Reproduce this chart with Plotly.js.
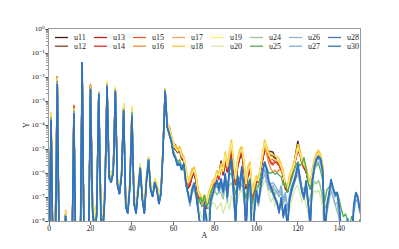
<!DOCTYPE html>
<html>
<head>
<meta charset="utf-8">
<script src="https://cdn.plot.ly/plotly-3.0.1.min.js"></script>
<style>html,body{margin:0;padding:0;background:#fff;}#chart{width:399px;height:249px;}</style>
</head>
<body>
<div id="chart"></div>
<script>
const A = [0,1,2,3,4,5,6,7,8,9,10,11,12,13,14,15,16,17,18,19,20,21,22,23,24,25,26,27,28,29,30,31,32,33,34,35,36,37,38,39,40,41,42,43,44,45,46,47,48,49,50,51,52,53,54,55,56,57,58,59,60,61,62,63,64,65,66,67,68,69,70,71,72,73,74,75,76,77,78,79,80,81,82,83,84,85,86,87,88,89,90,91,92,93,94,95,96,97,98,99,100,101,102,103,104,105,106,107,108,109,110,111,112,113,114,115,116,117,118,119,120,121,122,123,124,125,126,127,128,129,130,131,132,133,134,135,136,137,138,139,140,141,142,143,144,145,146,147,148,149,150];

const u11 = [1e-10,2.4e-4,1e-10,2.5e-9,8.5e-3,1e-10,1e-10,1e-10,1.8e-8,1e-10,
1e-10,1e-10,4.8e-4,1e-10,1e-10,1e-10,4e-2,1e-10,1e-10,1e-10,
4.2e-3,4.8e-8,8.5e-9,3.3e-8,2.2e-3,3.3e-8,9.5e-9,2.1e-7,4.4e-3,8.2e-7,
5.1e-7,1.2e-6,2.7e-3,3.5e-7,1.4e-7,8e-7,4.5e-4,5.6e-8,2.6e-8,3.1e-7,
3.5e-4,7e-8,3.1e-8,2.5e-7,1.7e-6,9e-8,2.6e-8,5e-7,3.5e-6,2.5e-7,
1.15e-7,3.6e-7,2.5e-7,7e-8,1.5e-7,9.8e-6,2.9e-3,9e-5,6.2e-5,2.9e-5,
1.05e-5,9.5e-6,7.2e-6,8.6e-6,3.9e-6,3.1e-6,1e-6,2.2e-7,3.1e-7,7e-7,
1e-6,4e-7,1e-7,6e-8,3.9e-8,7e-8,3.1e-8,9e-8,1.6e-7,2.6e-7,
3.3e-7,1.2e-6,8e-7,3.3e-6,8e-7,2.8e-6,1.05e-6,3.6e-6,8e-6,1.5e-6,
3.1e-7,1.8e-6,4e-6,6e-6,1.55e-6,2.1e-7,8.8e-7,1.3e-6,1.2e-7,1.75e-7,
3.9e-7,4.6e-7,1.35e-6,4.2e-6,9e-6,8.5e-6,8e-6,8e-6,7.5e-6,4.5e-6,
3.2e-6,2.4e-6,1.4e-6,7e-7,2.2e-7,1.6e-7,4.5e-7,7.4e-7,2e-6,7.5e-6,
2.2e-5,8e-6,2.7e-6,1.6e-6,1.1e-6,4.5e-7,2.2e-7,9.8e-7,2.4e-6,3.9e-6,
5e-6,3.4e-6,1.3e-6,1e-10,null,null,null,null,null,null,
null,null,null,null,null,null,null,null,null,null,null];

const u12 = [1e-10,2.5e-4,1e-10,3e-9,9e-3,1e-10,1e-10,1e-10,2e-8,1e-10,
1e-10,1e-10,5e-4,1e-10,1e-10,1e-10,4e-2,1e-10,1e-10,1e-10,
4.3e-3,5e-8,9e-9,3.5e-8,2.2e-3,3.5e-8,1e-8,2.2e-7,4.5e-3,8.5e-7,
5.3e-7,1.25e-6,2.8e-3,3.6e-7,1.45e-7,8.3e-7,4.6e-4,5.8e-8,2.7e-8,3.2e-7,
3.6e-4,7.2e-8,3.2e-8,2.6e-7,1.75e-6,9.2e-8,2.7e-8,5.1e-7,3.6e-6,2.6e-7,
1.2e-7,3.7e-7,2.6e-7,7.2e-8,1.55e-7,1e-5,3e-3,9.5e-5,6.5e-5,3e-5,
1.1e-5,1e-5,7.5e-6,9e-6,4e-6,3.2e-6,1.05e-6,2.3e-7,3.2e-7,7.2e-7,
1.05e-6,4.1e-7,1.05e-7,6.2e-8,4e-8,7.2e-8,3.2e-8,9.2e-8,1.65e-7,2.7e-7,
3.4e-7,1.1e-6,7e-7,3e-6,8.5e-7,3e-6,1.1e-6,3.8e-6,8.5e-6,1.6e-6,
3.2e-7,1.9e-6,4.2e-6,6.2e-6,1.6e-6,2.2e-7,9e-7,1.35e-6,1.1e-7,1.8e-7,
4e-7,4.5e-7,1.3e-6,4e-6,9.5e-6,8e-6,6.5e-6,5.5e-6,5e-6,3.8e-6,
3e-6,2.3e-6,1.4e-6,7.2e-7,2.3e-7,1.65e-7,4.6e-7,7.5e-7,1.8e-6,6e-6,
1.6e-5,7e-6,2.6e-6,1.65e-6,1.15e-6,4.6e-7,2.3e-7,1e-6,2.5e-6,4e-6,
5.2e-6,3.5e-6,1.35e-6,1e-10,null,null,null,null,null,null,
null,null,null,null,null,null,null,null,null,null,null];

const u13 = [1e-10,2.6e-4,1e-10,3e-9,1e-2,1e-10,1e-10,1e-10,2e-8,1e-10,
1e-10,1e-10,6e-4,1e-10,1e-10,1e-10,4e-2,1e-10,1e-10,1e-10,
4.6e-3,5e-8,9e-9,3.5e-8,2.3e-3,3.5e-8,1e-8,2.3e-7,4.6e-3,9e-7,
5.5e-7,1.3e-6,2.9e-3,3.8e-7,1.5e-7,8.5e-7,4.8e-4,6e-8,2.8e-8,3.3e-7,
3.8e-4,7.5e-8,3.3e-8,2.7e-7,1.8e-6,9.5e-8,2.8e-8,5.3e-7,3.7e-6,2.7e-7,
1.25e-7,3.8e-7,2.7e-7,7.5e-8,1.6e-7,1.05e-5,3.1e-3,1e-4,7e-5,3.2e-5,
1.2e-5,1.1e-5,8e-6,1e-5,4.2e-6,3.3e-6,1.1e-6,2.4e-7,3.3e-7,7.5e-7,
1.1e-6,4.3e-7,1.1e-7,6.5e-8,4.2e-8,7.5e-8,3.3e-8,9.5e-8,1.7e-7,2.8e-7,
3.5e-7,9e-7,6e-7,2.8e-6,9e-7,3.2e-6,1.2e-6,4e-6,9e-6,1.7e-6,
3.3e-7,2e-6,4.5e-6,6.5e-6,1.7e-6,2.3e-7,9.5e-7,1.4e-6,8e-8,1.9e-7,
4.2e-7,4.3e-7,1.2e-6,3.8e-6,1e-5,7.5e-6,5e-6,4e-6,3.5e-6,3.2e-6,
2.8e-6,2.2e-6,1.4e-6,7.5e-7,2.4e-7,1.7e-7,4.8e-7,7.8e-7,1.6e-6,4e-6,
1e-5,6e-6,2.4e-6,1.7e-6,1.2e-6,4.8e-7,2.4e-7,1.05e-6,2.6e-6,4.2e-6,
5.5e-6,3.6e-6,1.4e-6,1e-10,null,null,null,null,null,null,
null,null,null,null,null,null,null,null,null,null,null];

const u14 = [1e-10,2.8e-4,1e-10,4e-9,1.1e-2,1e-10,1e-10,1e-10,2.5e-8,1e-10,
1e-10,1e-10,7e-4,1e-10,1e-10,1e-10,4e-2,1e-10,1e-10,1e-10,
5e-3,6e-8,1e-8,4e-8,2.3e-3,4e-8,1.2e-8,2.5e-7,4.8e-3,1e-6,
6e-7,1.4e-6,3e-3,4e-7,1.6e-7,9e-7,5e-4,6e-8,3e-8,3.5e-7,
4e-4,8e-8,3.5e-8,2.8e-7,1.9e-6,1e-7,3e-8,5.5e-7,3.8e-6,2.8e-7,
1.3e-7,4e-7,2.8e-7,8e-8,1.7e-7,1.1e-5,3.2e-3,1e-4,9e-5,3.5e-5,
1.2e-5,1.5e-5,9e-6,1.2e-5,4.5e-6,3.5e-6,1.2e-6,2.5e-7,3.5e-7,8e-7,
1.2e-6,4.5e-7,1.2e-7,7e-8,4.5e-8,8e-8,3.5e-8,1e-7,1.8e-7,3e-7,
3.5e-7,8e-7,5e-7,2.5e-6,1e-6,3.5e-6,1.3e-6,4.5e-6,1e-5,1.8e-6,
3.5e-7,2.2e-6,5e-6,7e-6,1.8e-6,2.5e-7,1e-6,1.5e-6,6e-8,2e-7,
4.5e-7,4.5e-7,1.3e-6,4e-6,1.1e-5,7e-6,4.5e-6,2.5e-6,2.2e-6,3e-6,
2.5e-6,2e-6,1.3e-6,8e-7,2.5e-7,1.8e-7,5e-7,8e-7,1.6e-6,3.5e-6,
8e-6,6e-6,2.5e-6,1.8e-6,1.3e-6,5e-7,2.5e-7,1.1e-6,2.8e-6,4.5e-6,
6e-6,3.8e-6,1.5e-6,1e-10,null,null,null,null,null,null,
null,null,null,null,null,null,null,null,null,null,null];

const u15 = [1e-10,3e-4,1e-10,3e-9,1.05e-2,1e-10,1e-10,1e-10,2.2e-8,1e-10,
1e-10,1e-10,6e-4,1e-10,1e-10,1e-10,4e-2,1e-10,1e-10,1e-10,
4.8e-3,6e-8,1e-8,4e-8,2.4e-3,4e-8,1.2e-8,2.8e-7,5e-3,1e-6,
6e-7,1.5e-6,3.2e-3,4.2e-7,1.7e-7,1e-6,5.5e-4,7e-8,3.2e-8,3.8e-7,
4.2e-4,9e-8,4e-8,3e-7,2e-6,1.1e-7,3.2e-8,6e-7,4e-6,3e-7,
1.4e-7,4.2e-7,3e-7,9e-8,1.8e-7,1.2e-5,3.3e-3,1.1e-4,8.5e-5,3.5e-5,
1.4e-5,1.2e-5,8e-6,1e-5,5e-6,4e-6,1.3e-6,3e-7,4e-7,9e-7,
1.3e-6,5e-7,1.3e-7,8e-8,5e-8,9e-8,4e-8,1.1e-7,2e-7,3.2e-7,
4e-7,9e-7,7e-7,2.5e-6,1.1e-6,4e-6,1.5e-6,5e-6,1.1e-5,2e-6,
4e-7,2.5e-6,6e-6,8e-6,2e-6,3e-7,1.2e-6,1.8e-6,1.1e-7,2.2e-7,
5e-7,5e-7,1.4e-6,4.5e-6,1.3e-5,8e-6,5e-6,3e-6,2.5e-6,3e-6,
2.8e-6,2.2e-6,1.5e-6,9e-7,3e-7,2e-7,5.5e-7,9e-7,1.7e-6,4e-6,
1e-5,6.5e-6,2.8e-6,2e-6,1.4e-6,5.5e-7,2.8e-7,1.2e-6,3e-6,5e-6,
6.5e-6,4e-6,1.6e-6,1e-10,null,null,null,null,null,null,
null,null,null,null,null,null,null,null,null,null,null];

const u16 = [1e-10,3e-4,1e-10,3e-9,1e-2,1e-10,1e-10,1e-10,2.5e-8,1e-10,
1e-10,1e-10,5.5e-4,1e-10,1e-10,1e-10,4e-2,1e-10,1e-10,1e-10,
4.5e-3,7e-8,1.2e-8,4.5e-8,2.4e-3,4.5e-8,1.4e-8,3e-7,5.5e-3,1.1e-6,
6.5e-7,1.6e-6,3.3e-3,4.5e-7,1.8e-7,1.1e-6,6e-4,8e-8,3.5e-8,4e-7,
4.5e-4,1e-7,4.5e-8,3.2e-7,2e-6,1.2e-7,3.5e-8,6.5e-7,4.2e-6,3.2e-7,
1.5e-7,4.5e-7,3.2e-7,1e-7,2e-7,1.3e-5,3.3e-3,1.2e-4,8e-5,3.5e-5,
1.5e-5,1.3e-5,9e-6,1.1e-5,5.5e-6,4e-6,1.4e-6,3.5e-7,5e-7,1.1e-6,
1.5e-6,6e-7,1.5e-7,9e-8,6e-8,1e-7,4.5e-8,1.2e-7,2.2e-7,3.5e-7,
4.5e-7,1e-6,8e-7,2.2e-6,1.2e-6,5e-6,1.7e-6,6e-6,1.4e-5,2.5e-6,
5e-7,3e-6,7e-6,9e-6,2.5e-6,3.5e-7,1.4e-6,2e-6,1.3e-7,2.5e-7,
6e-7,5e-7,1.5e-6,5e-6,1.5e-5,6e-6,2.5e-6,1.5e-6,1.1e-6,1.3e-6,
1e-6,1.4e-6,1.2e-6,8e-7,3e-7,2.2e-7,6e-7,1e-6,1.8e-6,4.5e-6,
1.1e-5,7e-6,3e-6,2.2e-6,1.5e-6,6e-7,3e-7,1.3e-6,3.2e-6,5.5e-6,
7e-6,4.5e-6,1.8e-6,1e-10,null,null,null,null,null,null,
null,null,null,null,null,null,null,null,null,null,null];

const u17 = [1e-10,3.2e-4,1e-10,4e-9,9e-3,1e-10,1e-10,1e-10,2.5e-8,1e-10,
1e-10,1e-10,5e-4,1e-10,1e-10,1e-10,4e-2,1e-10,1e-10,1e-10,
4e-3,8e-8,1.3e-8,5e-8,2.5e-3,5e-8,1.6e-8,3.5e-7,6e-3,1.2e-6,
7e-7,1.8e-6,3.5e-3,5e-7,2e-7,1.2e-6,7e-4,9e-8,4e-8,4.5e-7,
5e-4,1.1e-7,5e-8,3.5e-7,2.2e-6,1.4e-7,4e-8,7e-7,4.5e-6,3.5e-7,
1.7e-7,5e-7,3.5e-7,1.1e-7,2.2e-7,1.4e-5,3.3e-3,1.2e-4,7e-5,3.5e-5,
1.8e-5,1.4e-5,1.1e-5,1.2e-5,7e-6,4.5e-6,1.8e-6,4e-7,7e-7,1.5e-6,
1.7e-6,7e-7,1.8e-7,1e-7,7e-8,1.1e-7,5e-8,1.3e-7,2.5e-7,4e-7,
5e-7,1.1e-6,9e-7,2e-6,1.4e-6,6e-6,2e-6,8e-6,1.8e-5,3e-6,
6e-7,3.5e-6,8e-6,1.1e-5,3e-6,4e-7,1.6e-6,2.5e-6,1.5e-7,3e-7,
7e-7,5e-7,1.7e-6,6e-6,2e-5,1e-5,6e-6,4e-6,4e-6,3.5e-6,
3.5e-6,3e-6,2e-6,1e-6,3.5e-7,2.5e-7,7e-7,1.1e-6,2e-6,5e-6,
1.3e-5,8e-6,3.5e-6,2.5e-6,1.7e-6,7e-7,3.5e-7,1.4e-6,3.5e-6,6e-6,
8e-6,5e-6,2e-6,1e-10,null,null,null,null,null,null,
null,null,null,null,null,null,null,null,null,null,null];

const u18 = [1e-10,3.5e-4,1e-10,5e-9,1e-2,1e-10,1e-10,1e-10,3e-8,1e-10,
1e-10,1e-10,5e-4,1e-10,1e-10,1e-10,4e-2,1e-10,1e-10,1e-10,
4.5e-3,1e-7,1.6e-8,6e-8,2.5e-3,6e-8,2e-8,4e-7,7e-3,1.3e-6,
8e-7,2e-6,4e-3,6e-7,2.5e-7,1.3e-6,8e-4,1e-7,5e-8,5e-7,
6e-4,1.3e-7,6e-8,4e-7,2.5e-6,1.6e-7,5e-8,8e-7,5e-6,4e-7,
2e-7,6e-7,4e-7,1.3e-7,2.5e-7,1.6e-5,3.5e-3,1.3e-4,8e-5,4e-5,
1.6e-5,1.3e-5,1e-5,1.3e-5,6e-6,5e-6,1.6e-6,5e-7,8e-7,1.3e-6,
1.8e-6,8e-7,2e-7,1.3e-7,8e-8,1.3e-7,6e-8,1.6e-7,3e-7,5e-7,
6e-7,1.3e-6,1e-6,2.5e-6,1.6e-6,8e-6,2.5e-6,1e-5,2.5e-5,4e-6,
8e-7,4e-6,1e-5,1.3e-5,4e-6,5e-7,2e-6,3e-6,2e-7,4e-7,
8e-7,6e-7,2e-6,8e-6,2.5e-5,1.3e-5,8e-6,6e-6,6e-6,5e-6,
5e-6,4e-6,2.5e-6,1.3e-6,4e-7,3e-7,8e-7,1.3e-6,2.5e-6,6e-6,
1.6e-5,1e-5,4e-6,3e-6,2e-6,8e-7,4e-7,1.6e-6,4e-6,7e-6,
9e-6,6e-6,2.5e-6,1e-10,null,null,null,null,null,null,
null,null,null,null,null,null,null,null,null,null,null];

const u19 = [1e-10,3.3e-4,1e-10,4e-9,9e-3,1e-10,1e-10,1e-10,2.5e-8,1e-10,
1e-10,1e-10,4.5e-4,1e-10,1e-10,1e-10,4e-2,1e-10,1e-10,1e-10,
4e-3,9e-8,1.4e-8,5.5e-8,2.4e-3,5.5e-8,1.8e-8,3.7e-7,6.5e-3,1.2e-6,
7.5e-7,1.8e-6,3.8e-3,5.5e-7,2.3e-7,1.2e-6,7.5e-4,9e-8,4.5e-8,4.6e-7,
5.5e-4,1.2e-7,5.5e-8,3.7e-7,2.3e-6,1.5e-7,4.5e-8,7.5e-7,4.6e-6,3.7e-7,
1.8e-7,5.5e-7,3.7e-7,1.2e-7,2.3e-7,1.5e-5,3.4e-3,1.2e-4,7e-5,3.5e-5,
1.4e-5,1.1e-5,8e-6,1e-5,5e-6,4e-6,1.3e-6,4e-7,6e-7,1e-6,
1.4e-6,6e-7,1.6e-7,1e-7,6e-8,1e-7,4.5e-8,1.2e-7,2.2e-7,4e-7,
4.5e-7,1e-6,7.5e-7,1.8e-6,1.2e-6,6e-6,1.8e-6,7e-6,1.8e-5,3e-6,
5.5e-7,3e-6,7e-6,1e-5,2.8e-6,3.5e-7,1.4e-6,2.2e-6,1.4e-7,3e-7,
6e-7,4.5e-7,1.5e-6,6e-6,1.9e-5,9e-6,5.5e-6,4e-6,4e-6,3.5e-6,
3.4e-6,2.8e-6,1.8e-6,9e-7,3e-7,2.2e-7,6e-7,1e-6,1.9e-6,4.5e-6,
1.1e-5,7e-6,3e-6,2.2e-6,1.5e-6,6e-7,3e-7,1.2e-6,3e-6,5e-6,
6.5e-6,4.5e-6,1.8e-6,1e-10,null,null,null,null,null,null,
null,null,null,null,null,null,null,null,null,null,null];

const u20 = [1e-10,2.2e-4,1e-10,2e-9,7e-3,1e-10,1e-10,1e-10,1.8e-8,1e-10,
1e-10,1e-10,4e-4,1e-10,1e-10,1e-10,4e-2,1e-10,1e-10,1e-10,
3.6e-3,4e-8,5e-9,2.5e-8,2.2e-3,2.5e-8,6e-9,2e-7,5e-3,8e-7,
5e-7,1.3e-6,3e-3,4e-7,1.6e-7,9e-7,5e-4,5e-8,2.5e-8,3e-7,
3.5e-4,7e-8,2.5e-8,2.5e-7,1.8e-6,9e-8,2.5e-8,5e-7,4e-6,2.5e-7,
1.2e-7,4e-7,2.5e-7,7e-8,1.5e-7,1e-5,3e-3,9e-5,5e-5,2.5e-5,
8e-6,5e-6,3e-6,3.5e-6,1.8e-6,1.5e-6,4e-7,1.5e-7,1.5e-7,3e-7,
3.5e-7,1.5e-7,4e-8,2e-8,1.2e-8,3e-8,1e-8,2e-8,4e-8,6e-8,
5e-8,3e-8,4e-8,6e-8,2e-8,4e-8,8e-8,3e-8,1.2e-7,6e-8,
2.5e-8,8e-8,1.5e-7,2e-7,9e-8,3e-8,1e-7,1.3e-7,1.5e-8,4e-8,
6e-8,1e-7,2e-7,3e-7,5e-7,3e-7,1.2e-7,6e-8,1e-7,4e-8,
7e-8,3e-8,6e-8,2e-8,4e-8,1.5e-8,3e-8,8e-8,1.5e-7,2.5e-7,
3e-7,1.5e-7,6e-8,1e-7,4e-8,2e-8,5e-8,1e-7,2e-7,1.5e-7,
2e-7,1e-7,4e-8,1e-10,null,null,null,null,null,null,
null,null,null,null,null,null,null,null,null,null,null];

const u24 = [1e-10,2e-4,1e-10,2e-9,6.5e-3,1e-10,1e-10,1e-10,1.7e-8,1e-10,
1e-10,1e-10,3.8e-4,1e-10,1e-10,1e-10,4e-2,1e-10,1e-10,1e-10,
3.5e-3,3.5e-8,4.5e-9,2.2e-8,2.1e-3,2.2e-8,5e-9,1.8e-7,4.8e-3,7.5e-7,
4.8e-7,1.25e-6,2.9e-3,3.8e-7,1.5e-7,8.5e-7,4.6e-4,4.6e-8,2.3e-8,2.8e-7,
3.3e-4,6.5e-8,2.3e-8,2.4e-7,1.75e-6,8.5e-8,2.3e-8,4.8e-7,3.8e-6,2.4e-7,
1.1e-7,3.8e-7,2.4e-7,6.5e-8,1.45e-7,9.5e-6,2.9e-3,8.5e-5,4.8e-5,2.4e-5,
7.5e-6,4.5e-6,2.6e-6,3e-6,1.5e-6,2e-6,3.5e-7,1.2e-7,5e-8,1.5e-7,
2e-7,1e-7,6e-8,8e-8,4e-8,9e-8,5e-8,3e-8,1e-7,1.3e-7,
1.8e-7,1.2e-7,2e-7,1.4e-7,8e-8,2.5e-7,1.5e-7,3e-7,4e-7,2e-7,
6e-8,2.5e-7,1.8e-7,4e-7,1.5e-7,4e-8,1.8e-7,2.5e-7,3e-8,8e-8,
1.5e-7,2.5e-7,5e-7,8e-7,1.2e-6,6e-7,2.5e-7,1.5e-7,2.5e-7,1.2e-7,
2e-7,1e-7,1.5e-7,5e-8,1e-7,4e-8,8e-8,2e-7,3.5e-7,6e-7,
8e-7,4e-7,1.5e-7,2.5e-7,1.2e-7,5e-8,1e-7,2.5e-7,4.5e-7,3.5e-7,
5e-7,2.5e-7,1e-7,3e-8,6e-8,1.5e-7,2e-7,1e-7,5e-8,3e-8,
1.5e-8,6e-9,3e-9,1e-9,1e-10,null,null,null,null,null,null];

const u25 = [1e-10,2.1e-4,1e-10,2.5e-9,7e-3,1e-10,1e-10,1e-10,1.8e-8,1e-10,
1e-10,1e-10,4e-4,1e-10,1e-10,1e-10,4e-2,1e-10,1e-10,1e-10,
3.6e-3,3.8e-8,5e-9,2.4e-8,2.2e-3,2.4e-8,5.5e-9,1.9e-7,5e-3,7.8e-7,
5e-7,1.3e-6,3e-3,3.9e-7,1.55e-7,8.8e-7,4.8e-4,4.8e-8,2.4e-8,2.9e-7,
3.4e-4,6.8e-8,2.4e-8,2.5e-7,1.8e-6,8.8e-8,2.4e-8,5e-7,3.9e-6,2.5e-7,
1.15e-7,3.9e-7,2.5e-7,6.8e-8,1.5e-7,9.8e-6,3e-3,8.8e-5,5e-5,2.5e-5,
8e-6,5e-6,3e-6,3.5e-6,1.8e-6,2.2e-6,4e-7,1.4e-7,6e-8,2e-7,
3e-7,1.5e-7,5e-8,1e-7,6e-8,1.2e-7,4e-8,6e-8,1.5e-7,2.5e-7,
3e-7,2.5e-7,4e-7,3e-7,1.5e-7,5e-7,3e-7,8e-7,1e-6,4e-7,
1.2e-7,5e-7,6e-7,1e-6,3e-7,8e-8,4e-7,6e-7,5e-8,1.2e-7,
2.5e-7,3e-7,6e-7,1.5e-6,2.5e-6,1.6e-6,1e-6,1e-6,1.1e-6,9e-7,
1e-6,8e-7,7e-7,3e-7,4e-7,1.5e-7,3e-7,6e-7,1.2e-6,2e-6,
3e-6,2e-6,2.5e-6,4.5e-6,1.5e-6,4e-7,2e-7,6e-7,1.5e-6,2e-6,
2.5e-6,1.2e-6,5e-7,6e-8,2e-7,2.5e-7,3e-7,2e-7,1.5e-7,1.5e-7,
8e-8,3e-8,1.5e-8,2e-8,1.2e-8,6e-9,1.6e-8,1e-8,3e-9,6e-9,1.2e-8];

const u26 = [1e-10,1.8e-4,1e-10,1e-10,6e-3,1e-10,1e-10,1e-10,1.7e-8,1e-10,
1e-10,1e-10,3.5e-4,1e-10,1e-10,1e-10,4.2e-2,1e-10,1e-10,1e-10,
3.3e-3,3e-8,3e-9,2e-8,2.1e-3,1.6e-8,4e-9,1.6e-7,4.3e-3,7e-7,
4.5e-7,1.15e-6,2.7e-3,3.4e-7,1.4e-7,9e-7,4.4e-4,4.5e-8,2.2e-8,2.8e-7,
2.8e-4,5.6e-8,2.2e-8,2.2e-7,1.7e-6,9e-8,2.2e-8,4.5e-7,3.7e-6,2.2e-7,
1.1e-7,4.4e-7,2.2e-7,5.6e-8,1.4e-7,9e-6,2.8e-3,8.5e-5,4.5e-5,2.2e-5,
7e-6,4.5e-6,2.2e-6,2.8e-6,1.4e-6,2.2e-6,3.5e-7,1.3e-7,4e-8,1.6e-7,
2.5e-7,8e-8,1.6e-8,4e-9,1.5e-9,3e-8,8e-9,3e-9,5e-8,1.1e-7,
2e-7,4e-7,1.4e-7,4e-7,1.2e-7,7e-7,6e-8,1e-6,2.5e-6,8e-8,
8e-9,5e-7,1.8e-7,1.3e-6,1.4e-7,3e-9,1.8e-7,3e-7,1e-9,1.5e-8,
1.2e-7,4e-8,1.8e-7,5e-7,9e-7,4e-7,2e-7,2.5e-7,3e-7,2e-7,
1.5e-7,1e-7,2e-7,6e-8,1.2e-7,2.5e-8,1e-7,2.2e-7,3.5e-7,6e-7,
1.2e-6,5e-7,1.5e-7,8e-8,3e-7,5e-8,1e-8,3e-7,1.2e-6,2.5e-6,
3e-6,2.5e-6,8e-7,3e-9,2e-8,6e-8,2e-7,1e-7,5e-8,6e-8,
1.5e-8,2e-9,1e-10,null,null,null,null,null,null,null,null];

const u27 = [1e-10,1.7e-4,1e-10,1e-10,5.5e-3,1e-10,1e-10,1e-10,1.6e-8,1e-10,
1e-10,1e-10,3.2e-4,1e-10,1e-10,1e-10,4.2e-2,1e-10,1e-10,1e-10,
3.2e-3,2.8e-8,2.8e-9,1.8e-8,2e-3,1.4e-8,3.5e-9,1.4e-7,4.2e-3,6.5e-7,
4.2e-7,1.1e-6,2.6e-3,3.2e-7,1.35e-7,8.5e-7,4.2e-4,4.2e-8,2.1e-8,2.6e-7,
2.7e-4,5.3e-8,2.1e-8,2.1e-7,1.65e-6,8.5e-8,2.1e-8,4.2e-7,3.6e-6,2.1e-7,
1.05e-7,4.2e-7,2.1e-7,5.3e-8,1.35e-7,8.5e-6,2.7e-3,8.2e-5,4.2e-5,2.1e-5,
6.5e-6,4.2e-6,2.1e-6,2.6e-6,1.35e-6,2.4e-6,3.8e-7,1.5e-7,5e-8,1.8e-7,
3e-7,1e-7,2e-8,5e-9,2e-9,4e-8,1e-8,2e-9,6e-8,1.3e-7,
2.5e-7,4.5e-7,1.6e-7,5e-7,1.4e-7,8e-7,8e-8,1.2e-6,3e-6,1e-7,
6e-9,6e-7,2e-7,1.5e-6,1.6e-7,4e-9,2e-7,4e-7,1e-9,2e-8,
1.5e-7,5e-8,2.2e-7,8e-7,1.5e-6,6e-7,3e-7,3.5e-7,4e-7,3e-7,
2.2e-7,1.5e-7,3e-7,8e-8,1.6e-7,3e-8,1.3e-7,3e-7,5e-7,1e-6,
1.8e-6,7e-7,2e-7,1e-7,4e-7,6e-8,1.2e-8,4e-7,1.6e-6,3.2e-6,
4e-6,3e-6,1e-6,4e-9,3e-8,1e-7,3.5e-7,2e-7,1e-7,1.2e-7,
3e-8,3e-9,1e-9,2e-9,8e-9,2e-9,1e-9,2e-8,8e-8,6e-8,2e-8];

const u28 = [1e-10,1.65e-4,1e-10,1e-10,5.2e-3,1e-10,1e-10,1e-10,1.6e-8,1e-10,
1e-10,1e-10,3.1e-4,1e-10,1e-10,1e-10,4.2e-2,1e-10,1e-10,1e-10,
3.1e-3,2.6e-8,2.6e-9,1.7e-8,2e-3,1.35e-8,3.2e-9,1.35e-7,4.1e-3,6.2e-7,
4.1e-7,1.05e-6,2.55e-3,3.1e-7,1.3e-7,8.2e-7,4.1e-4,4.1e-8,2e-8,2.55e-7,
2.6e-4,5.1e-8,2e-8,2.05e-7,1.6e-6,8.2e-8,2e-8,4.1e-7,3.55e-6,2.05e-7,
1.02e-7,4.1e-7,2.05e-7,5.1e-8,1.32e-7,8.2e-6,2.6e-3,8.1e-5,4.1e-5,2.05e-5,
6.2e-6,4.1e-6,2.05e-6,2.55e-6,1.32e-6,2.5e-6,4e-7,1.6e-7,5.5e-8,1.9e-7,
3.5e-7,1.2e-7,2.2e-8,5.5e-9,1.5e-9,4.5e-8,1.3e-8,2.2e-9,7e-8,1.5e-7,
2.8e-7,4.8e-7,1.8e-7,5.5e-7,1.5e-7,9e-7,9e-8,1.4e-6,3.5e-6,1.2e-7,
8e-9,7e-7,2.2e-7,1.8e-6,1.8e-7,4.5e-9,2.2e-7,4.5e-7,1e-9,2.2e-8,
1.8e-7,5.5e-8,2.6e-7,1.1e-6,2.5e-6,1.2e-6,4e-7,2e-7,1.3e-7,8e-8,
5e-8,2e-8,8e-8,1.3e-8,4e-8,5e-9,6e-8,1.6e-7,3e-7,6e-7,
2e-6,6e-7,1.6e-7,8e-8,4e-7,5e-8,5e-9,4e-7,1.8e-6,3.5e-6,
4.5e-6,3.5e-6,1.2e-6,3e-9,3.5e-8,1.2e-7,5e-7,2.2e-7,1.2e-7,1.4e-7,
3.5e-8,3.5e-9,1e-9,2e-9,1.1e-8,2e-9,1.4e-9,4e-8,1.3e-7,8e-8,2.5e-8];

const u30 = [1e-10,1.6e-4,1e-10,1e-10,5e-3,1e-10,1e-10,1e-10,1.6e-8,1e-10,
1e-10,1e-10,3e-4,1e-10,1e-10,1e-10,4.2e-2,1e-10,1e-10,1e-10,
3e-3,2.5e-8,2.5e-9,1.6e-8,2e-3,1.3e-8,3e-9,1.3e-7,4e-3,6e-7,
4e-7,1e-6,2.5e-3,3e-7,1.3e-7,8e-7,4e-4,4e-8,2e-8,2.5e-7,
2.5e-4,5e-8,2e-8,2e-7,1.6e-6,8e-8,2e-8,4e-7,3.5e-6,2e-7,
1e-7,4e-7,2e-7,5e-8,1.3e-7,8e-6,2.5e-3,8e-5,4e-5,2e-5,
6e-6,4e-6,2e-6,2.5e-6,1.3e-6,2.5e-6,4e-7,1.6e-7,6e-8,2e-7,
4e-7,1.3e-7,2.5e-8,6e-9,1e-9,5e-8,1.6e-8,2.5e-9,8e-8,1.6e-7,
3e-7,5e-7,2e-7,6e-7,1.6e-7,1e-6,1e-7,1.6e-6,4e-6,1.3e-7,
1e-8,8e-7,2.5e-7,2e-6,2e-7,5e-9,2.5e-7,5e-7,1e-9,2.5e-8,
2e-7,6e-8,3e-7,1.3e-6,3e-6,1.6e-6,5e-7,2.5e-7,1.6e-7,1e-7,
6e-8,2.5e-8,1e-7,1.6e-8,5e-8,6e-9,8e-8,2e-7,4e-7,8e-7,
2.5e-6,8e-7,2e-7,1e-7,5e-7,6e-8,6e-9,5e-7,2e-6,4e-6,
5e-6,4e-6,1.3e-6,3e-9,4e-8,1.3e-7,5.6e-7,2.5e-7,1.3e-7,1.6e-7,
4e-8,4e-9,1e-9,2.5e-9,1.3e-8,2.5e-9,1.6e-9,5e-8,1.6e-7,1e-7,3e-8];

const seriesNames = ['u11','u12','u13','u14','u15','u16','u17','u18','u19','u20','u24','u25','u26','u27','u28','u30'];
const seriesColors = ['#4b1a10','#8b3b2b','#b0261c','#e32b2b','#ea5a2a','#f08b3e','#f6a95c','#f7c934','#f6ef72','#d6e9a6','#95c78e','#4fae52','#92b2d6','#79ade0','#4a76b5','#2f72bd'];
const seriesData = [u11,u12,u13,u14,u15,u16,u17,u18,u19,u20,u24,u25,u26,u27,u28,u30];

const xTickVals = [0,20,40,60,80,100,120,140];
const yTickVals = [1,1e-1,1e-2,1e-3,1e-4,1e-5,1e-6,1e-7,1e-8];
const yTickText = ['10\u2070','10\u207B\u00B9','10\u207B\u00B2','10\u207B\u00B3','10\u207B\u2074','10\u207B\u2075','10\u207B\u2076','10\u207B\u2077','10\u207B\u2078'];

const FONT = 'Liberation Serif, DejaVu Serif, serif';

const traces = seriesData.map((d, i) => ({
  x: A, y: d, type: 'scatter', mode: 'lines', name: seriesNames[i],
  line: {color: seriesColors[i], width: i === seriesData.length - 1 ? 1.6 : 1.3},
  showlegend: false, connectgaps: false, hoverinfo: 'skip'
}));

// manual legend: 8 columns x 2 rows, column-major
const plotL = 49, plotW = 311, plotT = 29, plotH = 192;
const shapes = [], annotations = [];
seriesNames.forEach((n, i) => {
  const col = Math.floor(i / 2), row = i % 2;
  const px0 = 55 + col * 39, py = 37.5 + row * 8.7;
  const xa = (px0 - plotL) / plotW, xb = (px0 + 13 - plotL) / plotW, xt = (px0 + 17 - plotL) / plotW;
  const yp = 1 - (py - plotT) / plotH;
  shapes.push({type: 'line', xref: 'paper', yref: 'paper', x0: xa, x1: xb, y0: yp, y1: yp,
    line: {color: seriesColors[i], width: 1.3}});
  annotations.push({xref: 'paper', yref: 'paper', x: xt, y: yp, text: n, showarrow: false,
    xanchor: 'left', yanchor: 'middle', font: {family: FONT, size: 8, color: '#222'}});
});

const layout = {
  width: 399, height: 249,
  margin: {l: plotL, r: 399 - plotL - plotW, t: plotT, b: 249 - plotT - plotH, pad: 0},
  paper_bgcolor: '#fff', plot_bgcolor: '#fff',
  font: {family: FONT, size: 8, color: '#222'},
  xaxis: {
    range: [0, 150], tickmode: 'array', tickvals: xTickVals,
    ticks: 'outside', ticklen: 3, tickwidth: 0.8, tickcolor: '#444',
    ticklabelstandoff: -3,
    showline: true, mirror: true, linecolor: '#9a9a9a', linewidth: 1,
    showgrid: false, zeroline: false, automargin: false,
    tickfont: {family: FONT, size: 7.5, color: '#222'},
    title: {text: 'A', font: {family: FONT, size: 8, color: '#222'}, standoff: 0}
  },
  yaxis: {
    type: 'log', range: [-8, 0], tickmode: 'array', tickvals: yTickVals, ticktext: yTickText,
    ticks: 'outside', ticklen: 3, tickwidth: 0.8, tickcolor: '#444',
    ticklabelstandoff: -1,
    minor: {ticks: 'outside', ticklen: 1.6, tickwidth: 0.6, tickcolor: '#555', dtick: 'D1', showgrid: false},
    showline: true, mirror: true, linecolor: '#9a9a9a', linewidth: 1,
    showgrid: false, zeroline: false, automargin: false,
    tickfont: {family: FONT, size: 7, color: '#222'},
    title: {text: 'Y', font: {family: FONT, size: 8, color: '#222'}, standoff: 0}
  },
  shapes: shapes,
  annotations: annotations,
  showlegend: false
};

Plotly.newPlot('chart', traces, layout, {displayModeBar: false, staticPlot: true});
</script>
</body>
</html>
